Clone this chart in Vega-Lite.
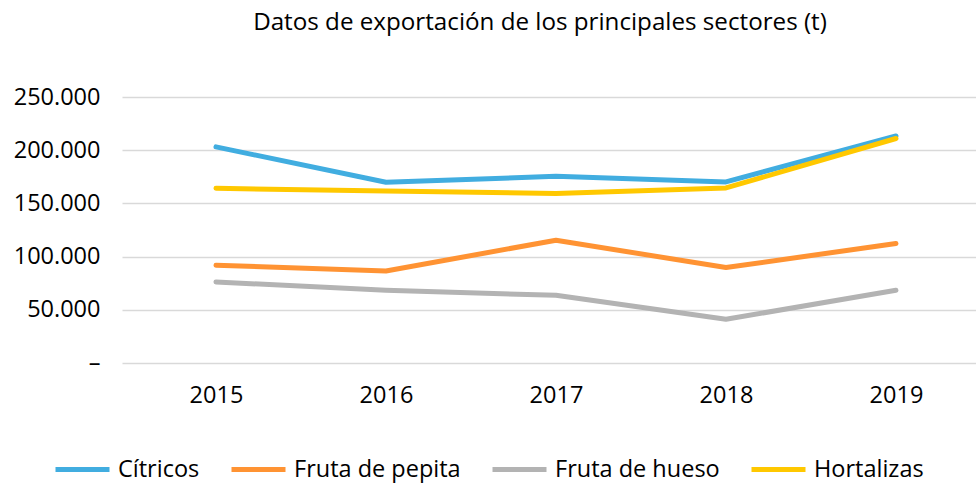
{
  "$schema": "https://vega.github.io/schema/vega-lite/v6.json",
  "width": 854,
  "height": 266,
  "autosize": {"type": "none"},
  "padding": {"left": 122, "top": 97, "right": 0, "bottom": 120},
  "background": "white",
  "title": {
    "text": "Datos de exportación de los principales sectores (t)",
    "font": "Open Sans",
    "fontSize": 24.2,
    "fontWeight": "normal",
    "color": "#000000",
    "anchor": "middle",
    "frame": "group",
    "dx": -9,
    "dy": -50,
    "offset": 0
  },
  "data": {
    "values": [
      {"year": "2015", "sector": "Cítricos", "value": 203100},
      {"year": "2016", "sector": "Cítricos", "value": 169900},
      {"year": "2017", "sector": "Cítricos", "value": 175500},
      {"year": "2018", "sector": "Cítricos", "value": 170200},
      {"year": "2019", "sector": "Cítricos", "value": 213400},
      {"year": "2015", "sector": "Fruta de pepita", "value": 91900},
      {"year": "2016", "sector": "Fruta de pepita", "value": 86500},
      {"year": "2017", "sector": "Fruta de pepita", "value": 115400},
      {"year": "2018", "sector": "Fruta de pepita", "value": 89700},
      {"year": "2019", "sector": "Fruta de pepita", "value": 112300},
      {"year": "2015", "sector": "Fruta de hueso", "value": 76200},
      {"year": "2016", "sector": "Fruta de hueso", "value": 68300},
      {"year": "2017", "sector": "Fruta de hueso", "value": 63600},
      {"year": "2018", "sector": "Fruta de hueso", "value": 41100},
      {"year": "2019", "sector": "Fruta de hueso", "value": 68300},
      {"year": "2015", "sector": "Hortalizas", "value": 164200},
      {"year": "2016", "sector": "Hortalizas", "value": 161700},
      {"year": "2017", "sector": "Hortalizas", "value": 159300},
      {"year": "2018", "sector": "Hortalizas", "value": 164500},
      {"year": "2019", "sector": "Hortalizas", "value": 211000}
    ]
  },
  "mark": {"type": "line", "strokeWidth": 5, "strokeCap": "round", "strokeJoin": "round"},
  "encoding": {
    "x": {
      "field": "year",
      "type": "ordinal",
      "scale": {"type": "point", "padding": 0.5118, "align": 0.54},
      "axis": {
        "title": null,
        "labelAngle": 0,
        "domain": false,
        "ticks": false,
        "grid": false,
        "labelPadding": 20,
        "labelFont": "Open Sans",
        "labelFontSize": 23.5,
        "labelColor": "#000000"
      }
    },
    "y": {
      "field": "value",
      "type": "quantitative",
      "scale": {"domain": [0, 250000], "nice": false},
      "axis": {
        "title": null,
        "values": [0, 50000, 100000, 150000, 200000, 250000],
        "labelExpr": "datum.value == 0 ? '–' : replace(format(datum.value, ','), ',', '.')",
        "domain": false,
        "ticks": false,
        "grid": true,
        "gridColor": "#d9d9d9",
        "gridWidth": 1.3,
        "labelPadding": 22,
        "labelFont": "Open Sans",
        "labelFontSize": 23.5,
        "labelColor": "#000000"
      }
    },
    "color": {
      "field": "sector",
      "type": "nominal",
      "scale": {
        "domain": ["Cítricos", "Fruta de pepita", "Fruta de hueso", "Hortalizas"],
        "range": ["#41ADE0", "#FF9333", "#B3B3B3", "#FFC800"]
      },
      "legend": {
        "title": null,
        "orient": "none",
        "direction": "horizontal",
        "legendX": -69,
        "legendY": 343,
        "symbolType": "stroke",
        "symbolSize": 2916,
        "symbolStrokeWidth": 5,
        "labelFont": "Open Sans",
        "labelFontSize": 23.5,
        "labelColor": "#000000",
        "labelOffset": 6,
        "columnPadding": 21,
        "labelLimit": 300
      }
    }
  },
  "config": {"view": {"stroke": null}}
}
